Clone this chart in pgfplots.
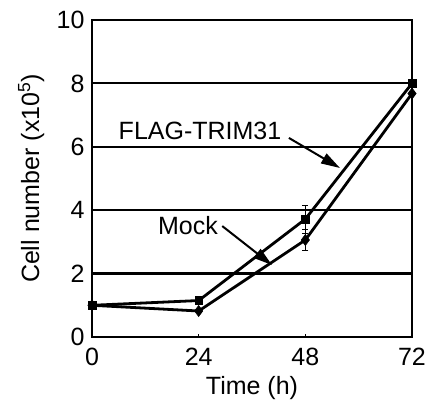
\documentclass[border=0pt]{standalone}
\usepackage{pgfplots}
\pgfplotsset{compat=1.18}
\usetikzlibrary{arrows.meta}
\usepackage{fontspec}
\setmainfont{Liberation Sans}
\newcommand{\bigfont}{\fontsize{25}{28}\selectfont}
\begin{document}
\begin{tikzpicture}
\begin{axis}[
    name=main,
    scale only axis,
    width=320pt, height=317pt,
    xmin=0, xmax=72, ymin=0, ymax=10,
    xtick={0,24,48,72},
    ytick={0,2,4,6,8,10},
    tick pos=left,
    tick align=inside,
    major tick length=3pt,
    axis line style={line width=2.8pt},
    every tick/.style={black, line width=1.5pt},
    ymajorgrids=true,
    grid style={black, line width=2.2pt},
    ticklabel style={font=\bigfont},
    /pgf/number format/assume math mode=true,
    xticklabel style={yshift=-8pt},
    yticklabel style={xshift=-4pt},
    xlabel={Time (h)},
    ylabel={Cell number (x10\textsuperscript{5})},
    label style={font=\bigfont},
    xlabel style={at={(axis description cs:0.5,-0.16)}, anchor=center},
    ylabel style={at={(axis description cs:-0.19,0.5)}, anchor=center},
    clip=false,
]
% FLAG-TRIM31
\addplot[black, line width=2.8pt, mark=square*, mark size=3.9pt,
    mark options={line width=0.5pt},
    error bars/.cd, y dir=both, y explicit,
    error bar style={line width=1pt}, error mark options={rotate=90, mark size=3pt, line width=1pt}]
    coordinates {
    (0,1) +- (0,0.05)
    (24,1.15) +- (0,0.05)
    (48,3.72) +- (0,0.44)
    (72,8.0) +- (0,0.05)
    };
% Mock
\addplot[black, line width=2.8pt, mark=diamond*, mark size=5.6pt,
    mark options={line width=0.5pt},
    error bars/.cd, y dir=both, y explicit,
    error bar style={line width=1pt}, error mark options={rotate=90, mark size=3pt, line width=1pt}]
    coordinates {
    (0,1) +- (0,0.05)
    (24,0.82) +- (0,0.05)
    (48,3.06) +- (0,0.32)
    (72,7.68) +- (0,0.05)
    };
\node[font=\bigfont] at (axis cs:24.3,6.5) {FLAG-TRIM31};
\draw[line width=2pt, -{Triangle[length=19pt, width=11pt]}] (axis cs:44.3,6.28) -- (axis cs:55.8,5.33);
\node[font=\bigfont] at (axis cs:21.6,3.5) {Mock};
\draw[line width=2pt, -{Triangle[length=19pt, width=11pt]}] (axis cs:29.3,3.5) -- (axis cs:40.5,2.27);
\end{axis}
\pgfresetboundingbox
\useasboundingbox ([shift={(-92pt,-69pt)}]main.south west) rectangle ([shift={(21pt,20pt)}]main.north east);
\end{tikzpicture}
\end{document}
